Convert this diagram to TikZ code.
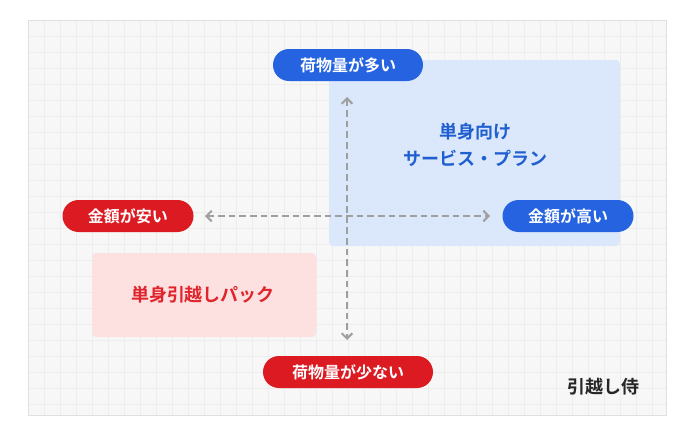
\documentclass[tikz,border=0pt]{standalone}
\usepackage{fontspec}
\setmainfont{Noto Sans CJK JP}[BoldFont={Noto Sans CJK JP Bold}]
\usetikzlibrary{arrows.meta}
\definecolor{pblue}{HTML}{2563E0}
\definecolor{pred}{HTML}{DC1A22}
\definecolor{lblue}{HTML}{DBE8FC}
\definecolor{lred}{HTML}{FDE1E1}
\definecolor{tblue}{HTML}{1F5FD0}
\definecolor{tred}{HTML}{E0242B}
\begin{document}
\begin{tikzpicture}[x=0.75pt,y=-0.75pt,
 pill/.style={rounded corners=16*0.75pt,minimum height=32*0.75pt,text=white,font=\bfseries\fontsize{12}{14}\selectfont,inner sep=0pt},
 arr/.style={draw=gray!75,line width=1.5pt,dash pattern=on 5pt off 3pt,{Straight Barb[length=4pt,width=8pt]}-{Straight Barb[length=4pt,width=8pt]}}]
\useasboundingbox (0,0) rectangle (694,439);
\fill[white] (0,0) rectangle (694,439);
\fill[black!3] (28,20) rectangle (666,415);
\begin{scope}
\clip (28,20) rectangle (666,415);
\foreach \i in {0,...,40} \draw[black!7,line width=0.5pt] (28+16*\i,20) -- (28+16*\i,415);
\foreach \i in {0,...,25} \draw[black!7,line width=0.5pt] (28,20+16*\i) -- (666,20+16*\i);
\end{scope}
\draw[black!12,line width=0.75pt] (28,20) rectangle (666,415);
\fill[lblue,rounded corners=3pt] (329,60) rectangle (620,246);
\fill[lred,rounded corners=3pt] (92,253) rectangle (316,337);
\coordinate (t) at (347,97); \coordinate (b) at (347,340);
\coordinate (l) at (205,216); \coordinate (r) at (490,216);
\draw[arr] (t) -- (b);
\draw[arr] (l) -- (r);
\node[pill,fill=pblue,minimum width=150*0.75pt] (top) at (348,65) {荷物量が多い};
\node[pill,fill=pred,minimum width=131*0.75pt] (left) at (128,216) {金額が安い};
\node[pill,fill=pblue,minimum width=131*0.75pt] (right) at (568,216) {金額が高い};
\node[pill,fill=pred,minimum width=170*0.75pt] (bot) at (348,372) {荷物量が少ない};
\node[text=tblue,font=\bfseries\fontsize{13.5}{20}\selectfont,align=center] (bl) at (475,145) {単身向け\\サービス・プラン};
\node[text=tred,font=\bfseries\fontsize{13.5}{16}\selectfont] (rl) at (203,295) {単身引越しパック};
\node[text=black!85,font=\bfseries\fontsize{13.5}{16}\selectfont] (logo) at (603,387) {引越し侍};
\end{tikzpicture}
\end{document}
